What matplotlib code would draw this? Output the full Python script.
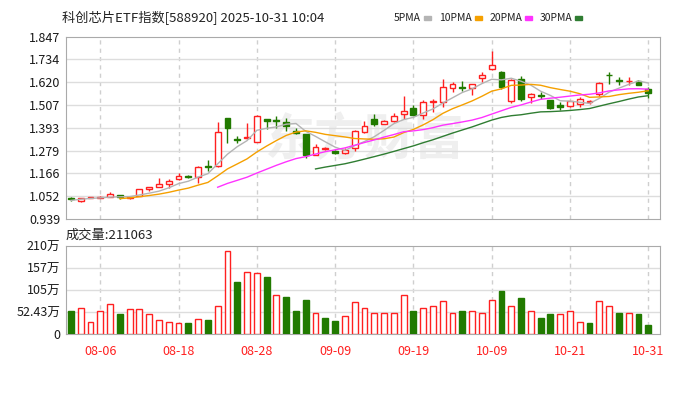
import matplotlib
matplotlib.use("Agg")
import matplotlib.pyplot as plt
import numpy as np
import pandas as pd
from matplotlib.patches import Rectangle

plt.rcParams["font.family"] = ["Noto Sans CJK SC", "DejaVu Sans"]

# trading days Aug 1 - Oct 31 2025 (National Day holiday Oct 1-8 closed)
dates = [d for d in pd.bdate_range("2025-08-01", "2025-10-31")
         if not (d.month == 10 and d.day <= 8)]

opens = [1.041, 1.025, 1.044, 1.041, 1.047, 1.057, 1.044, 1.052, 1.087, 1.097,
         1.112, 1.136, 1.152, 1.145, 1.201, 1.200, 1.440, 1.338, 1.340, 1.323,
         1.436, 1.432, 1.422, 1.375, 1.360, 1.258, 1.288, 1.277, 1.266, 1.290,
         1.374, 1.435, 1.411, 1.424, 1.462, 1.493, 1.457, 1.519, 1.523, 1.592,
         1.598, 1.591, 1.640, 1.685, 1.672, 1.524, 1.634, 1.546, 1.558, 1.531,
         1.505, 1.499, 1.512, 1.521, 1.562, 1.658, 1.629, 1.625, 1.627, 1.585]
highs = [1.047, 1.043, 1.048, 1.050, 1.073, 1.058, 1.052, 1.088, 1.097, 1.140,
         1.137, 1.165, 1.155, 1.200, 1.232, 1.420, 1.442, 1.352, 1.415, 1.458,
         1.438, 1.453, 1.440, 1.390, 1.362, 1.312, 1.298, 1.282, 1.290, 1.380,
         1.428, 1.461, 1.432, 1.465, 1.551, 1.506, 1.531, 1.535, 1.634, 1.622,
         1.627, 1.612, 1.672, 1.777, 1.674, 1.634, 1.650, 1.566, 1.572, 1.533,
         1.523, 1.528, 1.545, 1.533, 1.622, 1.672, 1.647, 1.647, 1.630, 1.598]
lows = [1.026, 1.023, 1.043, 1.040, 1.046, 1.037, 1.038, 1.050, 1.079, 1.095,
        1.091, 1.133, 1.143, 1.116, 1.177, 1.198, 1.315, 1.315, 1.335, 1.320,
        1.385, 1.390, 1.377, 1.360, 1.243, 1.256, 1.280, 1.262, 1.264, 1.278,
        1.365, 1.402, 1.409, 1.422, 1.435, 1.455, 1.435, 1.473, 1.495, 1.573,
        1.577, 1.556, 1.622, 1.683, 1.585, 1.518, 1.528, 1.515, 1.535, 1.488,
        1.481, 1.497, 1.498, 1.510, 1.551, 1.611, 1.606, 1.606, 1.605, 1.540]
closes = [1.037, 1.041, 1.046, 1.049, 1.060, 1.045, 1.047, 1.085, 1.095, 1.110,
          1.128, 1.152, 1.145, 1.198, 1.195, 1.373, 1.393, 1.333, 1.348, 1.453,
          1.424, 1.427, 1.400, 1.366, 1.257, 1.298, 1.291, 1.268, 1.284, 1.376,
          1.401, 1.411, 1.426, 1.451, 1.478, 1.457, 1.520, 1.527, 1.597, 1.610,
          1.590, 1.610, 1.658, 1.705, 1.595, 1.631, 1.535, 1.561, 1.553, 1.490,
          1.498, 1.525, 1.534, 1.524, 1.614, 1.654, 1.625, 1.628, 1.607, 1.566]
# closes of the four sessions before the window (feed the moving averages)
prior_closes = [1.012, 1.025, 1.035, 1.042]

# volume in 万
volumes = [54.5, 62.5, 29.6, 53.7, 71.3, 48.0, 59.3, 59.3, 47.3, 32.9,
           28.8, 25.6, 26.4, 35.3, 32.9, 65.7, 197.0, 124.0, 148.0, 145.0,
           136.0, 93.0, 88.0, 54.5, 81.7, 50.5, 39.3, 30.4, 44.0, 75.3,
           62.5, 50.5, 50.5, 50.5, 93.0, 54.5, 62.5, 65.7, 77.7, 50.5,
           54.5, 54.5, 50.5, 81.0, 103.0, 65.7, 85.0, 53.7, 39.3, 48.0,
           48.0, 53.7, 28.8, 26.4, 77.7, 65.7, 50.5, 50.5, 48.0, 21.1]

price_ticks = [0.939, 1.052, 1.166, 1.279, 1.393, 1.507, 1.620, 1.734, 1.847]
vol_ticks = [0, 52.43, 105, 157, 210]
vol_tick_labels = ["0", "52.43万", "105万", "157万", "210万"]

ma_periods = [5, 10, 20, 30]
ma_colors = ["#b4b4b4", "#f5a000", "#ff33ff", "#2f7d32"]

RED = "#ff2020"
GREEN = "#217a00"
GRID = "#dddddd"

n = len(closes)
x = np.arange(n)
o, h, l, c = map(np.array, (opens, highs, lows, closes))

all_closes = pd.Series(prior_closes + closes)
mas = [all_closes.rolling(p).mean().to_numpy()[len(prior_closes):] for p in ma_periods]
prev_close = all_closes.to_numpy()[len(prior_closes) - 1:-1]

tick_idx = list(range(3, n, 8))
tick_labels = [dates[i].strftime("%m-%d") for i in tick_idx]

fig = plt.figure(figsize=(6.93, 3.93), dpi=100)
ax = fig.add_axes([66 / 693, 1 - 218.7 / 393, 594 / 693, 182 / 393])
axv = fig.add_axes([66 / 693, 1 - 334 / 393, 594 / 693, 88 / 393])

for a in (ax, axv):
    a.set_xlim(-0.5, 60.2)
    for s in a.spines.values():
        s.set_color("#aaaaaa")
    for i in tick_idx:
        a.axvline(i, color="#cfcfcf", lw=1, ls=(0, (3, 3)), zorder=0)
    a.tick_params(length=0, labelsize=9, colors="#1a1a1a", pad=4)

# watermark
ax.text(30, 1.33, "东方财富", ha="center", va="center", fontsize=36,
        fontweight="bold", color="#efefef", zorder=0)

# price panel
ax.set_ylim(price_ticks[0], price_ticks[-1])
ax.set_yticks(price_ticks)
ax.set_yticklabels([f"{t:.3f}" for t in price_ticks])
for t in price_ticks[1:-1]:
    ax.axhline(t, color=GRID, lw=1, zorder=0)
ax.set_xticks([])

up = c >= o
for i in range(n):
    col = RED if up[i] else GREEN
    ax.vlines(x[i], l[i], h[i], color=col, lw=1, zorder=2)
    body = max(abs(c[i] - o[i]), 0.0015)
    ax.bar(x[i], body, bottom=min(o[i], c[i]), width=0.6,
           facecolor="white" if up[i] else GREEN, edgecolor=col, lw=1, zorder=3)

for ma, col in zip(mas, ma_colors):
    ax.plot(x, ma, color=col, lw=1, zorder=4)

# volume panel
axv.set_ylim(0, 210)
axv.set_yticks(vol_ticks)
axv.set_yticklabels(vol_tick_labels)
for t in vol_ticks[1:-1]:
    axv.axhline(t, color=GRID, lw=1, zorder=0)
vol_up = c >= prev_close
axv.bar(x, volumes, width=0.6,
        color=["white" if u else GREEN for u in vol_up],
        edgecolor=[RED if u else GREEN for u in vol_up], lw=1, zorder=3)
axv.set_xticks(tick_idx)
axv.set_xticklabels(tick_labels, color=RED)
axv.tick_params(axis="x", pad=8, colors=RED)

# header texts
fig.text(62 / 693, 1 - 18 / 393, "科创芯片ETF指数[588920] 2025-10-31 10:04",
         va="center", ha="left", fontsize=9.5, color="#222222")
fig.text(66 / 693, 1 - 235 / 393, "成交量:211063", va="center", ha="left",
         fontsize=9.5, color="#222222")

# legend: label text ending just left of its colour swatch
swatch_x = [424, 475, 525, 575]
for sx, p, col in zip(swatch_x, ma_periods, ma_colors):
    fig.text((sx - 3) / 693, 1 - 18 / 393, f"{p}PMA", va="center", ha="right",
             fontsize=7.5, color="#222222")
    fig.add_artist(Rectangle((sx / 693, 1 - 20 / 393), 7 / 693, 4 / 393,
                             transform=fig.transFigure, color=col))

fig.savefig("out.png", dpi=100)
